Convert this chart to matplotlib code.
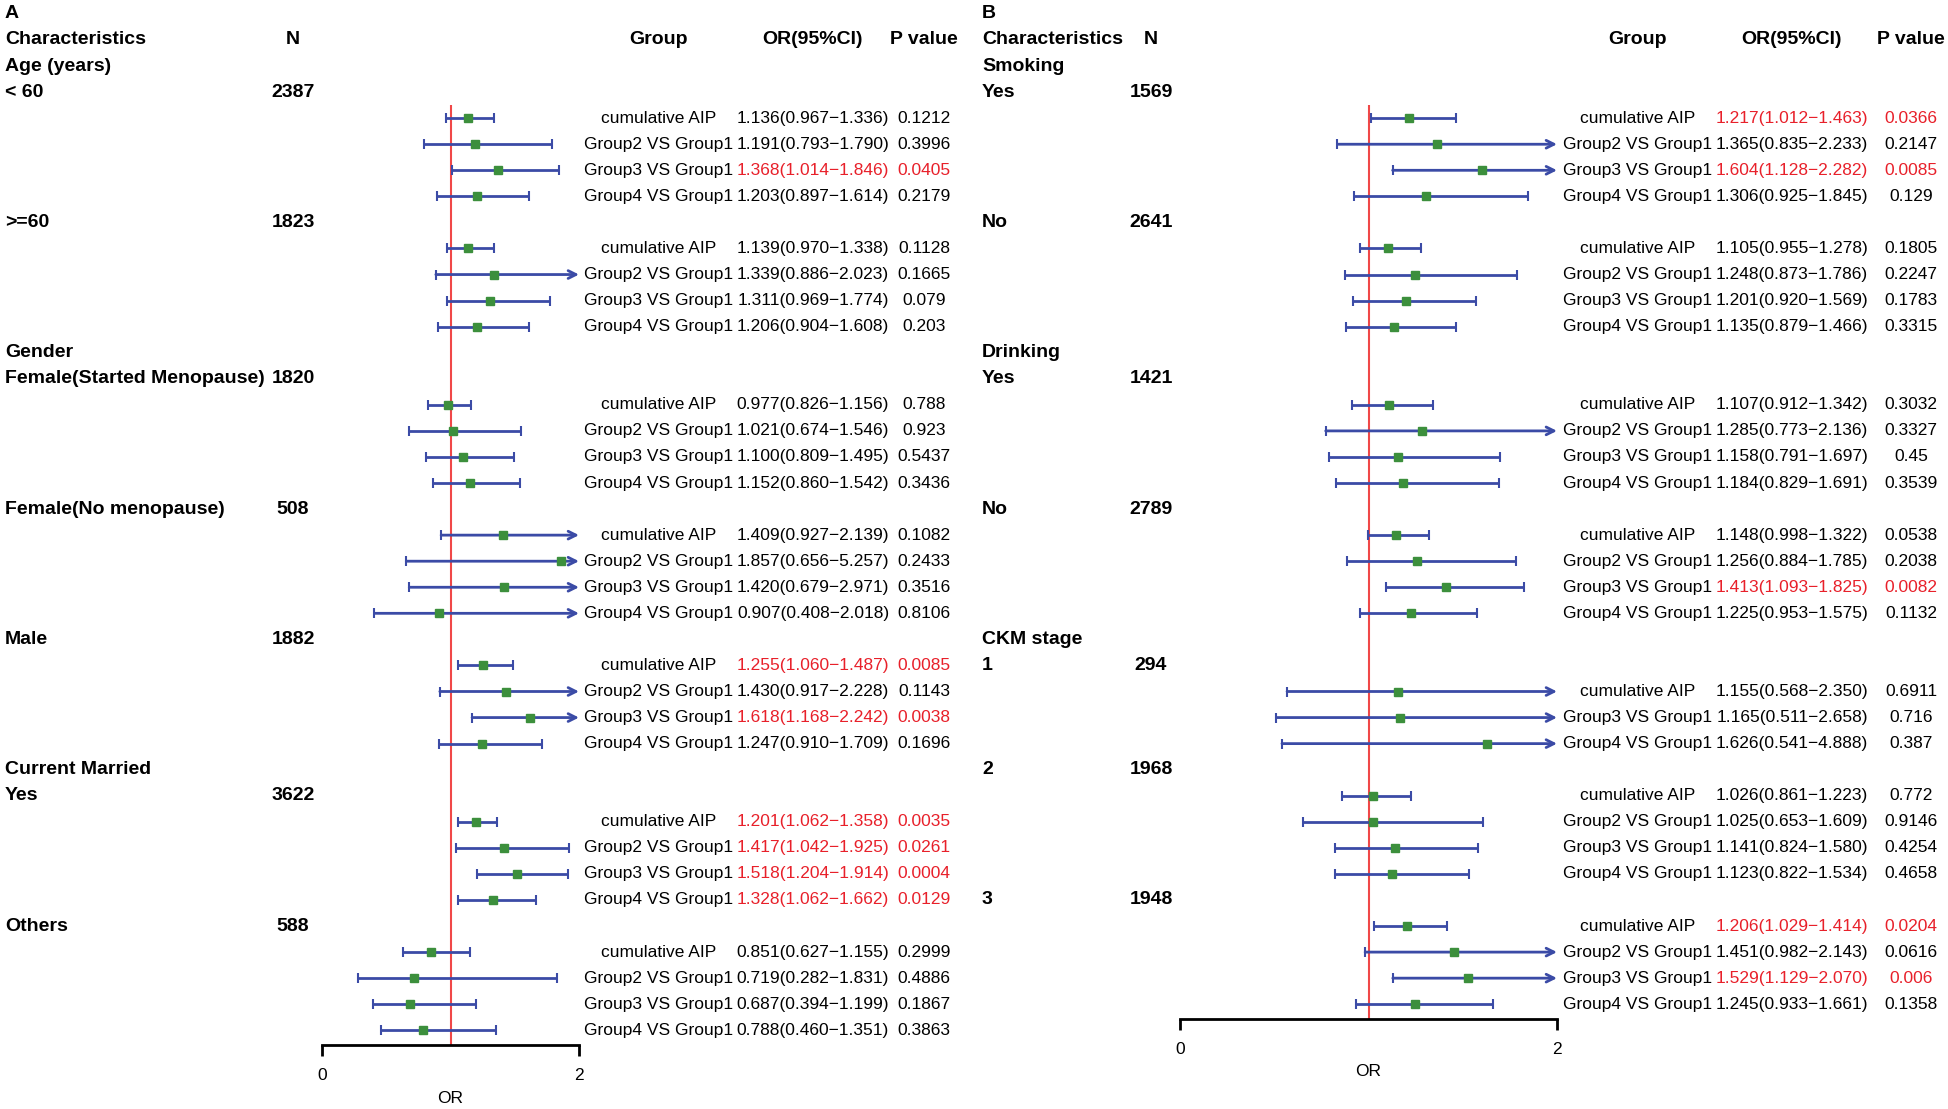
import matplotlib
matplotlib.use("Agg")
import matplotlib.pyplot as plt

plt.rcParams['font.family'] = ['Liberation Sans', 'DejaVu Sans']

# ---- data, panel A ----
cats_a = {0: "Age (years)", 2: "Gender", 5: "Current Married"}
subs_a = ["< 60", ">=60", "Female(Started Menopause)", "Female(No menopause)", "Male", "Yes", "Others"]
n_a = [2387, 1823, 1820, 508, 1882, 3622, 588]
groups_a = [["cumulative AIP", "Group2 VS Group1", "Group3 VS Group1", "Group4 VS Group1"]] * 7
or_a = [[1.136, 1.191, 1.368, 1.203], [1.139, 1.339, 1.311, 1.206], [0.977, 1.021, 1.100, 1.152],
        [1.409, 1.857, 1.420, 0.907], [1.255, 1.430, 1.618, 1.247], [1.201, 1.417, 1.518, 1.328],
        [0.851, 0.719, 0.687, 0.788]]
lo_a = [[0.967, 0.793, 1.014, 0.897], [0.970, 0.886, 0.969, 0.904], [0.826, 0.674, 0.809, 0.860],
        [0.927, 0.656, 0.679, 0.408], [1.060, 0.917, 1.168, 0.910], [1.062, 1.042, 1.204, 1.062],
        [0.627, 0.282, 0.394, 0.460]]
hi_a = [[1.336, 1.790, 1.846, 1.614], [1.338, 2.023, 1.774, 1.608], [1.156, 1.546, 1.495, 1.542],
        [2.139, 5.257, 2.971, 2.018], [1.487, 2.228, 2.242, 1.709], [1.358, 1.925, 1.914, 1.662],
        [1.155, 1.831, 1.199, 1.351]]
p_a = [["0.1212", "0.3996", "0.0405", "0.2179"], ["0.1128", "0.1665", "0.079", "0.203"],
       ["0.788", "0.923", "0.5437", "0.3436"], ["0.1082", "0.2433", "0.3516", "0.8106"],
       ["0.0085", "0.1143", "0.0038", "0.1696"], ["0.0035", "0.0261", "0.0004", "0.0129"],
       ["0.2999", "0.4886", "0.1867", "0.3863"]]

# ---- data, panel B ----
cats_b = {0: "Smoking", 2: "Drinking", 4: "CKM stage"}
subs_b = ["Yes", "No", "Yes", "No", "1", "2", "3"]
n_b = [1569, 2641, 1421, 2789, 294, 1968, 1948]
full = ["cumulative AIP", "Group2 VS Group1", "Group3 VS Group1", "Group4 VS Group1"]
groups_b = [full, full, full, full, ["cumulative AIP", "Group3 VS Group1", "Group4 VS Group1"], full, full]
or_b = [[1.217, 1.365, 1.604, 1.306], [1.105, 1.248, 1.201, 1.135], [1.107, 1.285, 1.158, 1.184],
        [1.148, 1.256, 1.413, 1.225], [1.155, 1.165, 1.626], [1.026, 1.025, 1.141, 1.123],
        [1.206, 1.451, 1.529, 1.245]]
lo_b = [[1.012, 0.835, 1.128, 0.925], [0.955, 0.873, 0.920, 0.879], [0.912, 0.773, 0.791, 0.829],
        [0.998, 0.884, 1.093, 0.953], [0.568, 0.511, 0.541], [0.861, 0.653, 0.824, 0.822],
        [1.029, 0.982, 1.129, 0.933]]
hi_b = [[1.463, 2.233, 2.282, 1.845], [1.278, 1.786, 1.569, 1.466], [1.342, 2.136, 1.697, 1.691],
        [1.322, 1.785, 1.825, 1.575], [2.350, 2.658, 4.888], [1.223, 1.609, 1.580, 1.534],
        [1.414, 2.143, 2.070, 1.661]]
p_b = [["0.0366", "0.2147", "0.0085", "0.129"], ["0.1805", "0.2247", "0.1783", "0.3315"],
       ["0.3032", "0.3327", "0.45", "0.3539"], ["0.0538", "0.2038", "0.0082", "0.1132"],
       ["0.6911", "0.716", "0.387"], ["0.772", "0.9146", "0.4254", "0.4658"],
       ["0.0204", "0.0616", "0.006", "0.1358"]]

W, H = 1949, 1109
Y0, DY = 40, 26.06          # pixel y of header row, row height
FS, FSB = 12.5, 14
BLUE, GREEN, RED_LINE, RED_TXT = "#3b4ba6", "#3c8f3c", "#f04848", "#e8202a"

fig = plt.figure(figsize=(W / 100, H / 100), dpi=100)
tax = fig.add_axes([0, 0, 1, 1])
tax.set_xlim(0, W)
tax.set_ylim(H, 0)
tax.axis("off")


def ypix(r):
    return Y0 + DY * r


def panel(letter, cats, subs, ns, groups, ors, los, his, ps, cols, fx):
    cx, nx, gx, ox, px = cols
    tax.text(cx, ypix(-1), letter, fontsize=FSB, fontweight="bold", va="center")
    tax.text(cx, ypix(0), "Characteristics", fontsize=FSB, fontweight="bold", va="center")
    for x, s in [(nx, "N"), (gx, "Group"), (ox, "OR(95%CI)"), (px, "P value")]:
        tax.text(x, ypix(0), s, fontsize=FSB, fontweight="bold", va="center", ha="center")

    ax = fig.add_axes([fx[0] / W, 0, (fx[1] - fx[0]) / W, 1])
    ax.set_xlim(0, 2)
    ax.set_ylim((H - Y0) / DY, -Y0 / DY)
    ax.patch.set_visible(False)
    for s in ["top", "left", "right"]:
        ax.spines[s].set_visible(False)
    ax.set_yticks([])

    r = 1
    first = None
    for i, sub in enumerate(subs):
        if i in cats:
            tax.text(cx, ypix(r), cats[i], fontsize=FSB, fontweight="bold", va="center")
            r += 1
        tax.text(cx, ypix(r), sub, fontsize=FSB, fontweight="bold", va="center")
        tax.text(nx, ypix(r), str(ns[i]), fontsize=FSB, fontweight="bold", va="center", ha="center")
        r += 1
        for j, g in enumerate(groups[i]):
            if first is None:
                first = r
            est, lo, hi, p = ors[i][j], los[i][j], his[i][j], ps[i][j]
            col = RED_TXT if float(p) < 0.05 else "black"
            tax.text(gx, ypix(r), g, fontsize=FS, va="center", ha="center")
            tax.text(ox, ypix(r), f"{est:.3f}({lo:.3f}\u2212{hi:.3f})", fontsize=FS,
                     va="center", ha="center", color=col)
            tax.text(px, ypix(r), p, fontsize=FS, va="center", ha="center", color=col)
            if hi > 2:
                ax.annotate("", xy=(2, r), xytext=(max(lo, 0), r),
                            arrowprops=dict(arrowstyle="->", color=BLUE, lw=2,
                                            mutation_scale=14, shrinkA=0, shrinkB=0))
                ax.plot([lo], [r], marker="|", color=BLUE, ms=7, mew=1.5, clip_on=False)
            else:
                ax.hlines(r, lo, hi, color=BLUE, lw=2)
                ax.plot([lo, hi], [r, r], "|", color=BLUE, ms=7, mew=1.5, clip_on=False)
            ax.plot(est, r, "s", color=GREEN, ms=5.5, zorder=5)
            r += 1
    axis_row = r - 1 + 0.55
    ax.vlines(1, first - 0.5, axis_row, color=RED_LINE, lw=1.5, zorder=1)
    ax.spines["bottom"].set_position(("data", axis_row))
    ax.spines["bottom"].set_linewidth(2)
    ax.set_xticks([0, 2])
    ax.tick_params(axis="x", length=8, width=2, pad=9, labelsize=FS)
    ax.text(1, axis_row + 2.05, "OR", fontsize=FS, ha="center", va="center")


panel("A", cats_a, subs_a, n_a, groups_a, or_a, lo_a, hi_a, p_a,
      (5, 293, 659, 813, 924), (322, 579))
panel("B", cats_b, subs_b, n_b, groups_b, or_b, lo_b, hi_b, p_b,
      (982, 1151, 1638, 1792, 1911), (1180, 1557))

fig.savefig("out.png", dpi=100)
